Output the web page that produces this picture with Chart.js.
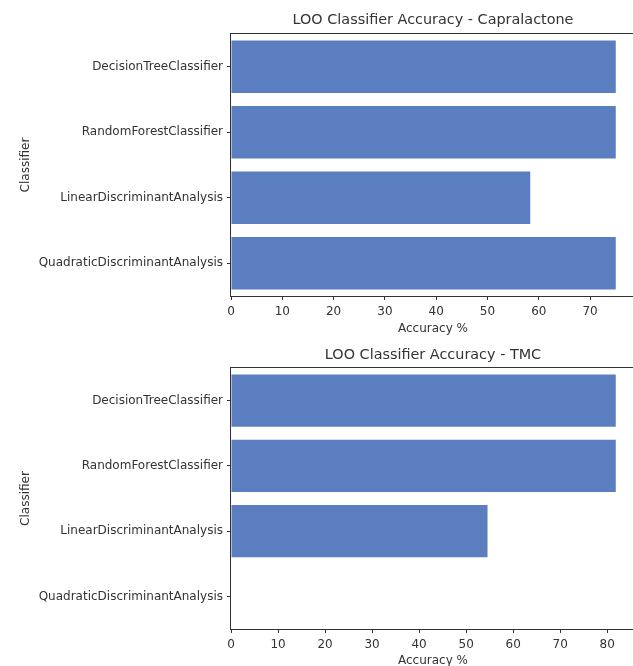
<!DOCTYPE html>
<html>
<head>
<meta charset="utf-8">
<script src="https://cdn.jsdelivr.net/npm/chart.js@4"></script>
<style>
  html, body { margin: 0; padding: 0; overflow: hidden; background: #fff; width: 633px; height: 666px; }
  canvas { position: absolute; left: 0; }
  #capra { top: 0; }
  #tmc { top: 340px; }
</style>
</head>
<body>
<canvas id="capra" width="636" height="340"></canvas>
<canvas id="tmc" width="636" height="330"></canvas>
<script>
// data
const classifiers = ['DecisionTreeClassifier', 'RandomForestClassifier', 'LinearDiscriminantAnalysis', 'QuadraticDiscriminantAnalysis'];
const capraAccuracy = [75, 75, 58.33, 75];
const tmcAccuracy = [81.82, 81.82, 54.55, 0];
const tickStep = 10;

const barColor = '#5a7ec0';
const ink = '#333';
const font = 'DejaVu Sans';

// matplotlib style full frame around the plot area
const frame = {
  id: 'frame',
  afterDatasetsDraw(chart) {
    const a = chart.chartArea, c = chart.ctx;
    c.save();
    c.strokeStyle = ink;
    c.lineWidth = 1;
    c.strokeRect(Math.round(a.left) - 0.5, Math.round(a.top) - 0.5, Math.round(a.right - a.left) + 1, Math.round(a.bottom - a.top) + 1);
    c.restore();
  }
};

function accuracyChart(id, title, values, box) {
  new Chart(document.getElementById(id), {
    type: 'bar',
    data: {
      labels: classifiers,
      datasets: [{
        label: 'Accuracy',
        data: values,
        backgroundColor: barColor,
        borderWidth: 0,
        barPercentage: 1,
        categoryPercentage: 0.8
      }]
    },
    options: {
      indexAxis: 'y',
      responsive: false,
      animation: false,
      layout: { padding: { left: 0, right: 1, top: 0, bottom: 0 } },
      plugins: {
        legend: { display: false },
        tooltip: { enabled: false }
      },
      scales: {
        x: {
          min: 0,
          max: Math.max(...values) * 1.05,
          afterFit: s => { s.height = box.xHeight; },
          afterBuildTicks: s => { s.ticks = s.ticks.filter(t => t.value % tickStep === 0); },
          ticks: { stepSize: tickStep, includeBounds: false, color: ink, padding: 5, font: { family: font, size: 12 } },
          grid: { drawOnChartArea: false, drawTicks: true, tickLength: 4, color: ink },
          border: { display: false },
          title: {
            display: true,
            text: 'Accuracy %',
            color: ink,
            font: { family: font, size: 12 },
            padding: { top: 0, bottom: box.xTitlePad }
          }
        },
        // top axis only carries the plot title, centred over the plot area
        top: {
          type: 'linear',
          position: 'top',
          afterFit: s => { s.height = box.topHeight; },
          ticks: { display: false },
          grid: { display: false },
          border: { display: false },
          title: {
            display: true,
            text: title,
            color: ink,
            font: { family: font, size: 14.4 },
            padding: { top: box.titlePad, bottom: 0 }
          }
        },
        y: {
          afterFit: s => { s.width = 231; },
          ticks: { color: ink, padding: 4, font: { family: font, size: 12 } },
          grid: { offset: false, drawOnChartArea: false, drawTicks: true, tickLength: 4, color: ink },
          border: { display: false },
          title: {
            display: true,
            text: 'Classifier',
            color: ink,
            font: { family: font, size: 12 },
            padding: { top: 18.5, bottom: 0 }
          }
        }
      }
    },
    plugins: [frame]
  });
}

accuracyChart('capra', 'LOO Classifier Accuracy - Capralactone', capraAccuracy,
  { topHeight: 34, titlePad: 11.4, xHeight: 44, xTitlePad: 4.3 });
accuracyChart('tmc', 'LOO Classifier Accuracy - TMC', tmcAccuracy,
  { topHeight: 28, titlePad: 6.4, xHeight: 41, xTitlePad: 2.3 });
</script>
</body>
</html>
